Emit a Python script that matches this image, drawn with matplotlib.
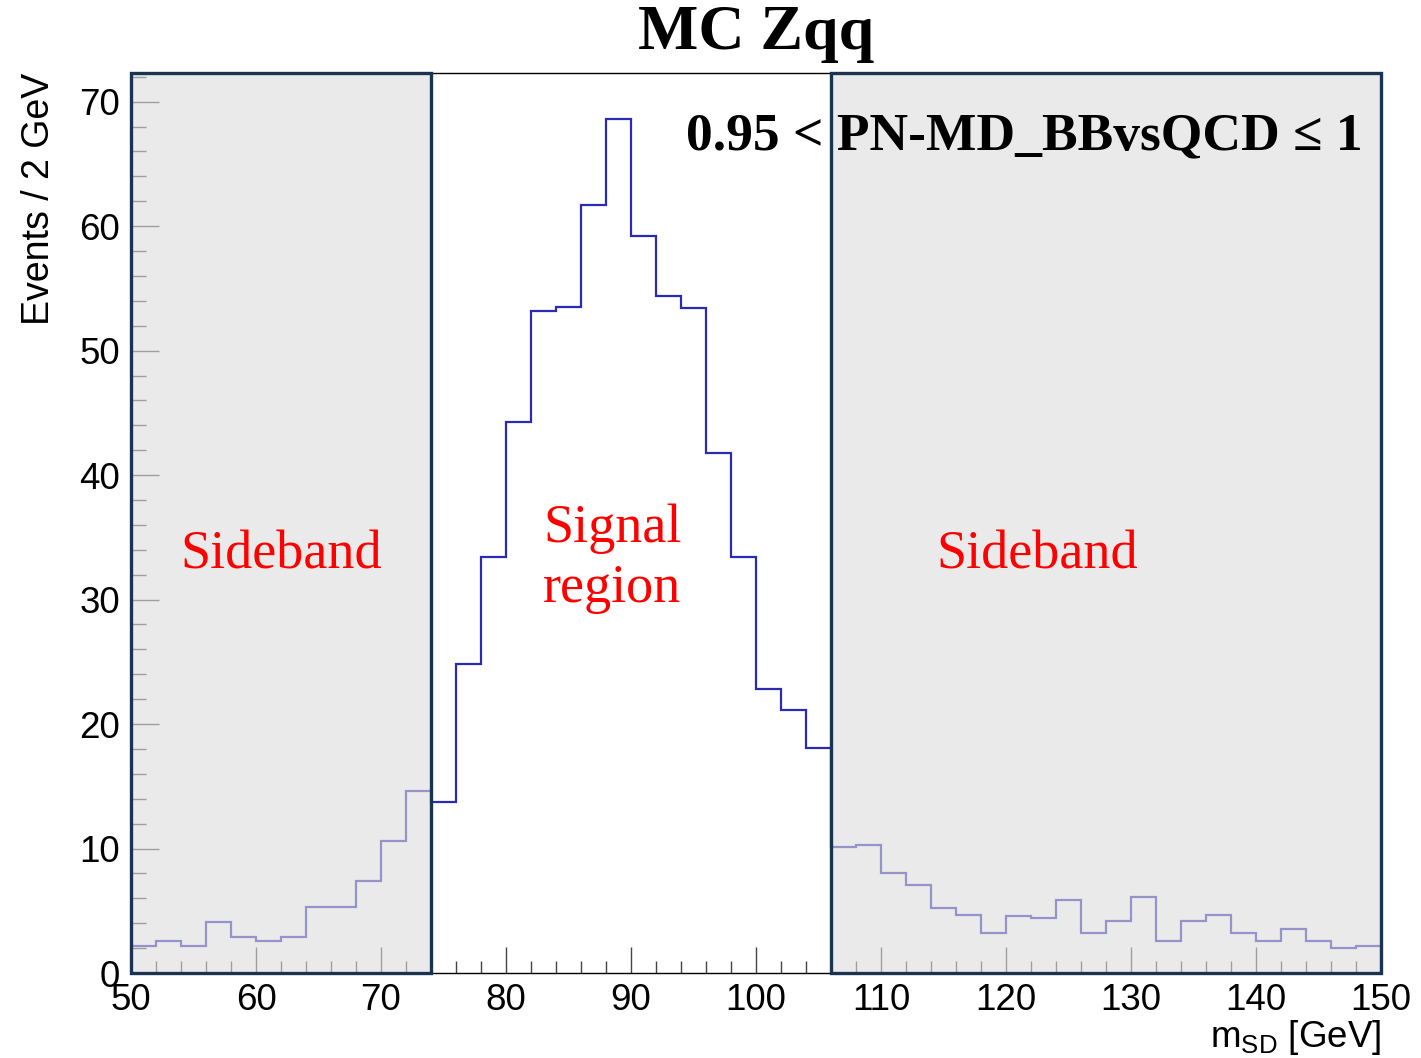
import numpy as np
import matplotlib.pyplot as plt
from matplotlib.patches import Rectangle
from matplotlib.ticker import MultipleLocator

# m_SD histogram, 2 GeV bins from 50 to 150
bin_edges = np.arange(50, 152, 2)
counts = [2.2, 2.6, 2.2, 4.1, 2.9, 2.6, 2.9, 5.3, 5.3, 7.4,
          10.6, 14.6, 13.7, 24.8, 33.4, 44.3, 53.2, 53.5, 61.7, 68.6,
          59.2, 54.4, 53.4, 41.8, 33.4, 22.8, 21.1, 18.1, 10.1, 10.3,
          8.0, 7.1, 5.2, 4.7, 3.2, 4.6, 4.4, 5.9, 3.2, 4.15,
          6.1, 2.6, 4.15, 4.7, 3.2, 2.6, 3.5, 2.6, 2.0, 2.2]

sidebands = [(50, 74), (106, 150)]
sideband_label_x = [62, 122.5]
signal_label_x = 88.5

fig = plt.figure(figsize=(14.21, 10.58), dpi=100)
ax = fig.add_axes([0.0922, 0.0803, 0.8796, 0.8507])

ax.stairs(counts, bin_edges, color='#2a2ab2', linewidth=1.6, zorder=2)

ymax = 72.3
ax.set_xlim(50, 150)
ax.set_ylim(0, ymax)

# shaded sideband boxes on top of the histogram
for lo, hi in sidebands:
    ax.add_patch(Rectangle((lo, 0), hi - lo, ymax, facecolor='#dcdcdc', alpha=0.6,
                           edgecolor='none', zorder=3, clip_on=False))
    ax.add_patch(Rectangle((lo, 0), hi - lo, ymax, facecolor='none',
                           edgecolor='#1a3352', linewidth=2.4, zorder=4, clip_on=False))

# ROOT-like axes
ax.xaxis.set_major_locator(MultipleLocator(10))
ax.xaxis.set_minor_locator(MultipleLocator(2))
ax.yaxis.set_major_locator(MultipleLocator(10))
ax.yaxis.set_minor_locator(MultipleLocator(2))
ax.tick_params(which='both', direction='in', color='#444444', width=1.0,
               top=False, right=False, labelsize=26.5)
ax.tick_params(axis='x', which='major', length=19, pad=7)
ax.tick_params(axis='x', which='minor', length=9)
ax.tick_params(axis='y', which='major', length=20, pad=8)
ax.tick_params(axis='y', which='minor', length=11)
for lab in ax.get_xticklabels() + ax.get_yticklabels():
    lab.set_family('Liberation Sans')
for sp in ax.spines.values():
    sp.set_linewidth(1.0)
    sp.set_color('black')

ax.set_ylabel('Events / 2 GeV', fontsize=27, family='Liberation Sans', loc='top', labelpad=16)
ax.set_xlabel(r'm$_{\mathregular{SD}}$ [GeV]', fontsize=26.5, family='Liberation Sans',
              loc='right', labelpad=0)

fig.text(0.532, 0.968, 'MC Zqq', ha='center', va='center', fontsize=46,
         fontweight='bold', family='Liberation Serif')
ax.text(0.985, 0.929, '0.95 < PN-MD_BBvsQCD ≤ 1', transform=ax.transAxes,
        ha='right', va='center', fontsize=38.5, fontweight='bold',
        family='Liberation Serif', zorder=5)

for xc in sideband_label_x:
    ax.text(xc, 33.6, 'Sideband', ha='center', va='center', fontsize=39,
            color='#ff0000', family='Liberation Serif', zorder=5)
ax.text(signal_label_x, 33.3, 'Signal\nregion', ha='center', va='center', fontsize=39,
        color='#ff0000', family='Liberation Serif', linespacing=1.25, zorder=5)

fig.savefig('out.png', dpi=100)
